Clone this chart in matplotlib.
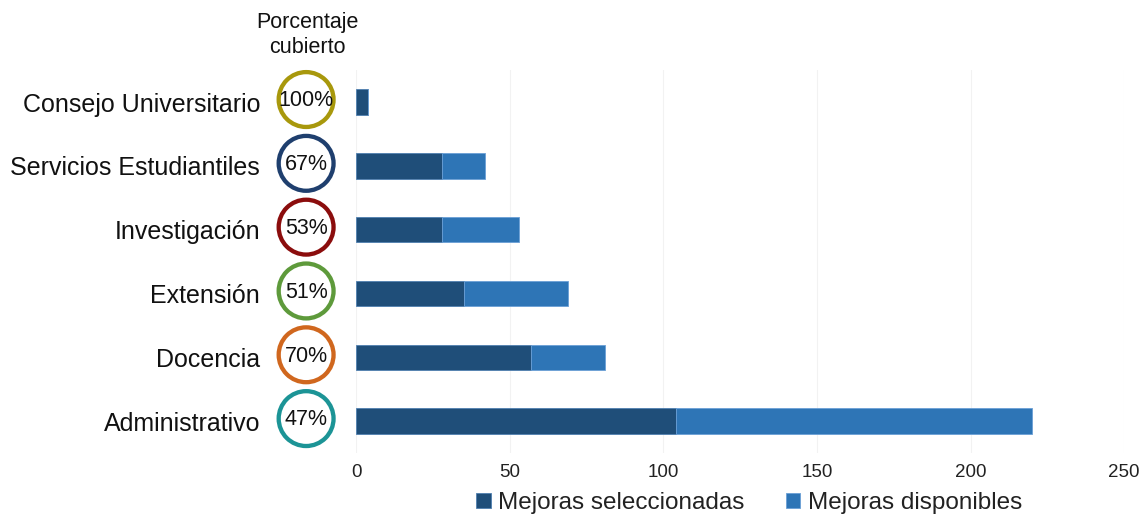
import matplotlib.pyplot as plt
import matplotlib.transforms as transforms

plt.rcParams['font.family'] = ['Liberation Sans', 'DejaVu Sans']

categories = ['Administrativo', 'Docencia', 'Extensión', 'Investigación',
              'Servicios Estudiantiles', 'Consejo Universitario']
seleccionadas = [104, 57, 35, 28, 28, 4]
disponibles = [116, 24, 34, 25, 14, 0]
porcentajes = ['47%', '70%', '51%', '53%', '67%', '100%']
circle_colors = ['#1C9496', '#D0671E', '#5E9A3B', '#8B0D0D', '#1F3F6E', '#A8980C']

fig = plt.figure(figsize=(11.43, 5.16), dpi=100)
ax = fig.add_axes([0.3115, 0.122, 0.672, 0.742])

y = range(len(categories))
ax.barh(y, seleccionadas, height=0.4, color='#1F4E79', edgecolor='#4F7FB0',
        linewidth=0.6, label='Mejoras seleccionadas', zorder=3)
ax.barh(y, disponibles, left=seleccionadas, height=0.4, color='#2E75B6',
        edgecolor='#6A9FD6', linewidth=0.6, label='Mejoras disponibles', zorder=3)

ax.set_xlim(0, 250)
ax.set_ylim(-0.5, len(categories) - 0.5)
ax.set_xticks([0, 50, 100, 150, 200, 250])
ax.set_yticks(list(y))
ax.set_yticklabels(categories, fontsize=18, color='#111111')
ax.tick_params(axis='y', length=0, pad=69)
ax.tick_params(axis='x', length=0, pad=8, labelsize=13.5, labelcolor='#222222')
ax.grid(axis='x', color='#F2F2F2', linewidth=0.8, zorder=0)
for s in ax.spines.values():
    s.set_visible(False)

# circles with percentage covered
trans = transforms.blended_transform_factory(ax.transAxes, ax.transData)
ax.scatter([-0.065] * len(categories), [v + 0.04 for v in y], s=1560, facecolor='white',
           edgecolor=circle_colors, linewidth=3.1, transform=trans, clip_on=False, zorder=4)
for yi, p in zip(y, porcentajes):
    ax.text(-0.065, yi + 0.02, p, transform=trans, ha='center', va='center',
            fontsize=15.5, color='#111111', zorder=5)

fig.text(307 / 1143, 1 - 35 / 516, 'Porcentaje\ncubierto', ha='center', va='center',
         fontsize=15.5, linespacing=1.3, color='#111111')

fig.legend(loc='center', bbox_to_anchor=(749 / 1143, 1 - 503 / 516), ncol=2,
           frameon=False, fontsize=17.5, handlelength=0.6, handleheight=0.6,
           handletextpad=0.3, columnspacing=1.7, labelcolor='#222222')

fig.savefig('out.png', dpi=100)
